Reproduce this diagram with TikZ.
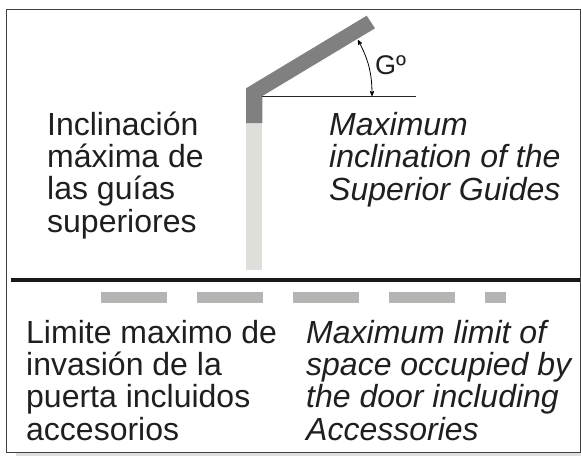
\documentclass[tikz,border=0pt]{standalone}
\usepackage{fontspec}
\setmainfont{Liberation Sans}
\usetikzlibrary{arrows,positioning}

\begin{document}
\begin{tikzpicture}[x=1pt,y=-1pt,
  label/.style={inner sep=0pt,align=left,anchor=base west,font=\fontsize{32}{32.2}\selectfont,text=black!88},
  labelit/.style={label,font=\fontsize{32}{32.2}\selectfont\itshape},
  guide/.style={fill=black!50,draw=none},
  post/.style={fill=postgrey,draw=none},
  gap/.style={fill=dashgrey,draw=none,minimum height=11pt,inner sep=0pt,outer sep=0pt},
  angle/.style={<->,>=stealth',line width=.8pt}]
  \definecolor{postgrey}{RGB}{222,223,218}
  \definecolor{dashgrey}{RGB}{180,180,178}

  \useasboundingbox (0,0) rectangle (581,456);

  % frame
  \fill[black!12] (16,452) rectangle (581,456);
  \draw[black!75,line width=.8pt] (6,9) -- (580,9) -- (580,452) -- (6,452) -- cycle;

  % post and guide
  \fill[post] (246,123) rectangle (262,270);
  \fill[guide] (246,123) -- (246,88.3) -- (366.7,15.7) -- (375,28.3) -- (262.4,96) -- (262.4,123) -- cycle;

  \coordinate (hinge) at (262.4,96);
  \coordinate (reach) at (415.7,96);
  \coordinate (stop) at (372,96);
  \coordinate (tip) at (358,40);
  \draw[black!85,line width=.7pt] (hinge) -- (reach);
  \draw[angle] (tip) to[bend left=14] (stop);
  \node[anchor=base west,inner sep=0pt,font=\fontsize{27}{32}\selectfont,text=black!88] (gdeg) at (375,74) {G\textordmasculine};

  % limit line and dashes
  \draw[black!90,line width=4pt] (10.5,279.7) -- (580,279.7);
  \node[gap,minimum width=66.3pt,anchor=north west] (d1) at (100.5,291.7) {};
  \node[gap,minimum width=66.3pt,right=29.7pt of d1] (d2) {};
  \node[gap,minimum width=66.3pt,right=29.7pt of d2] (d3) {};
  \node[gap,minimum width=66.3pt,right=29.7pt of d3] (d4) {};
  \node[gap,minimum width=21pt,right=29.7pt of d4] (d5) {};

  % texts
  \node[label] (es1) at (47,232) {Inclinación\\máxima de\\las guías\\superiores};
  \node[labelit] (en1) at (329,200) {Maximum\\inclination of the\\Superior Guides};
  \node[label] (es2) at (26,440) {Limite maximo de\\invasión de la\\puerta incluidos\\accesorios};
  \node[labelit] (en2) at (306,440) {Maximum limit of\\space occupied by\\the door including\\Accessories};
\end{tikzpicture}
\end{document}
